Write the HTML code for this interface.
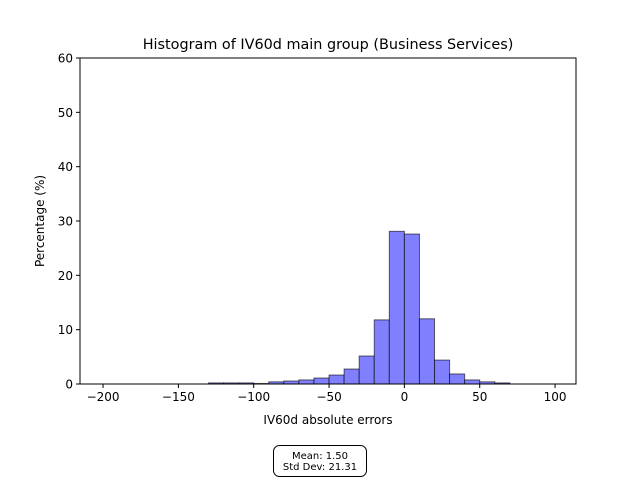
<!DOCTYPE html>
<html><head><meta charset="utf-8"><style>
body{margin:0;background:#fff;}
svg{font-family:"DejaVu Sans","Liberation Sans",sans-serif;}
</style></head><body>
<svg id="chart" width="640" height="480" viewBox="0 0 640 480">
<rect width="640" height="480" fill="#fff"/>
<text x="328" y="49" text-anchor="middle" font-size="14.4">Histogram of IV60d main group (Business Services)</text>
<g id="bars"></g>
<g id="xticks"></g>
<g id="yticks"></g>
<rect x="80" y="58" width="496" height="326" fill="none" stroke="#000" stroke-width="1"/>
<text x="328" y="424" text-anchor="middle" font-size="12">IV60d absolute errors</text>
<text transform="translate(44,221) rotate(-90)" text-anchor="middle" font-size="12">Percentage (%)</text>
<g>
<rect x="273.5" y="445.5" width="93" height="31" rx="6" fill="#fff" stroke="#000" stroke-width="1"/>
<text x="320" y="459" text-anchor="middle" font-size="10">Mean: 1.50</text>
<text x="320" y="470" text-anchor="middle" font-size="10">Std Dev: 21.31</text>
</g>
</svg>
<script>
const binStarts=[-130,-120,-110,-100,-90,-80,-70,-60,-50,-40,-30,-20,-10,0,10,20,30,40,50,60];
const percentages=[0.2,0.2,0.2,0.1,0.4,0.55,0.75,1.1,1.65,2.75,5.15,11.8,28.1,27.6,12.0,4.4,1.85,0.75,0.4,0.2];
const binWidth=10;
const xTicks=[-200,-150,-100,-50,0,50,100];
const yTicks=[0,10,20,30,40,50,60];
const NS="http://www.w3.org/2000/svg";
const X0=80,X1=576,Y0=384,Y1=58,xmin=-215.3,xmax=113.9,ymin=0,ymax=60;
function sx(v){return X0+(v-xmin)/(xmax-xmin)*(X1-X0);}
function sy(v){return Y0-(v-ymin)/(ymax-ymin)*(Y0-Y1);}
const gb=document.getElementById('bars');
binStarts.forEach((b,i)=>{
  const r=document.createElementNS(NS,'rect');
  const x=sx(b),w=sx(b+binWidth)-x,y=sy(percentages[i]);
  r.setAttribute('x',x);r.setAttribute('y',y);r.setAttribute('width',w);r.setAttribute('height',Y0-y);
  r.setAttribute('fill','#8080ff');r.setAttribute('stroke','rgba(0,0,0,0.6)');r.setAttribute('stroke-width','1');
  
  
  gb.appendChild(r);
});
const gx=document.getElementById('xticks');
xTicks.forEach(t=>{
  const x=sx(t);
  const l=document.createElementNS(NS,'line');
  l.setAttribute('x1',x);l.setAttribute('x2',x);l.setAttribute('y1',Y0);l.setAttribute('y2',Y0+4);l.setAttribute('stroke','#000');
  
  
  gx.appendChild(l);
  const tx=document.createElementNS(NS,'text');
  tx.setAttribute('x',x);tx.setAttribute('y',Y0+17);tx.setAttribute('text-anchor','middle');tx.setAttribute('font-size','12');
  tx.textContent=t<0?'\u2212'+Math.abs(t):t;
  
  
  gx.appendChild(tx);
});
const gy=document.getElementById('yticks');
yTicks.forEach(t=>{
  const y=sy(t);
  const l=document.createElementNS(NS,'line');
  l.setAttribute('x1',X0-4);l.setAttribute('x2',X0);l.setAttribute('y1',y);l.setAttribute('y2',y);l.setAttribute('stroke','#000');
  
  
  gy.appendChild(l);
  const tx=document.createElementNS(NS,'text');
  tx.setAttribute('x',X0-7);tx.setAttribute('y',y+4.5);tx.setAttribute('text-anchor','end');tx.setAttribute('font-size','12');
  tx.textContent=t;
  
  
  gy.appendChild(tx);
});
</script>
</body></html>
